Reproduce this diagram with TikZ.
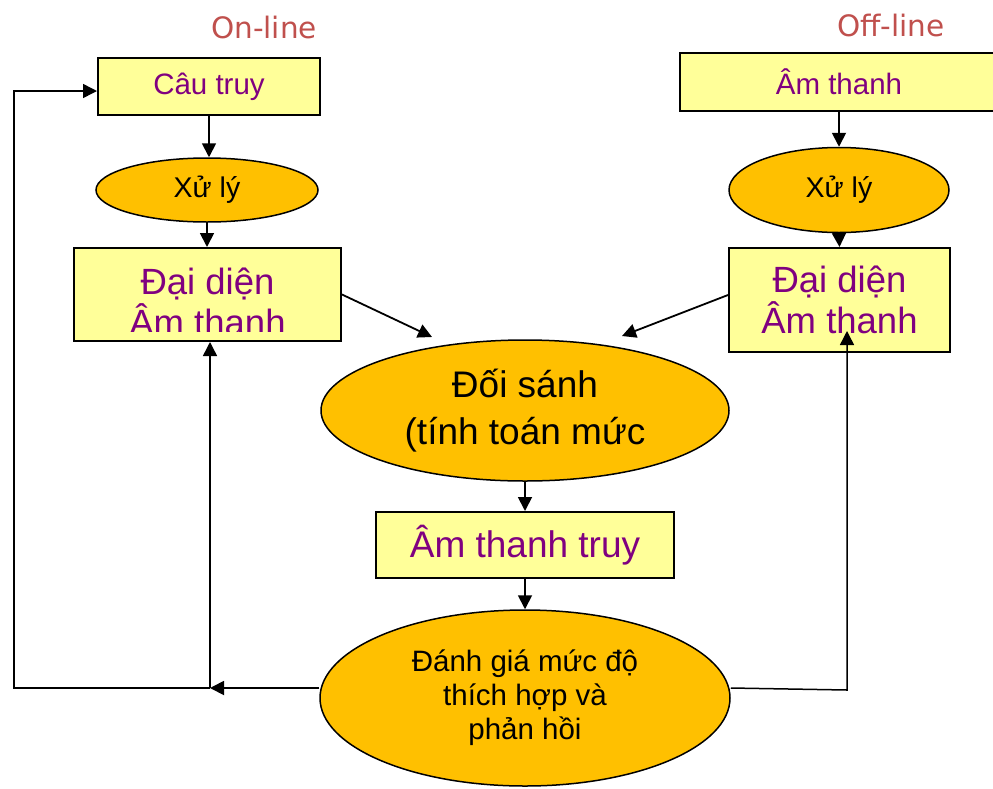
\documentclass[tikz,border=0pt]{standalone}
\usepackage{fontspec}
\setmainfont{Liberation Sans}
\newfontfamily\labelfont{DejaVu Sans}
\usetikzlibrary{shapes.geometric,arrows.meta,calc}
\definecolor{boxfill}{HTML}{FFFF99}
\definecolor{ovalfill}{HTML}{FFC000}
\definecolor{boxtext}{HTML}{800080}
\definecolor{modetext}{HTML}{C0504D}
\tikzset{
  box/.style={draw=black, line width=2pt, fill=boxfill, text=boxtext, align=center, inner sep=0pt},
  oval/.style={ellipse, draw=black, line width=1.5pt, fill=ovalfill, text=black, align=center, inner sep=0pt},
  arr/.style={line width=1.8pt, -{Triangle[length=14pt,width=14pt]}},
  link/.style={line width=1.5pt},
  mode/.style={text=modetext, font=\labelfont\fontsize{29.5}{34}\selectfont}
}
\begin{document}
\begin{tikzpicture}[x=1pt, y=-1pt]
\clip (0,0) rectangle (993,788);
\fill[white] (0,0) rectangle (993,788);

% mode labels
\node[mode] (on) at (264,27) {On-line};
\node[mode] (off) at (891,25) {Off-line};

% on-line branch
\node[box, minimum width=222, minimum height=57, font=\fontsize{29.5}{34}\selectfont] (q) at (209,86.5) {Câu truy};
\node[oval, minimum width=222, minimum height=64, font=\fontsize{28.5}{32}\selectfont] (x1) at (207,190) {Xử lý};
\node[box, minimum width=267, minimum height=93] (dl) at (207.5,294.5) {};
\begin{scope}
  \clip (75,249) rectangle (340,331);
  \node[text=boxtext, align=center, font=\fontsize{36.5}{41}\selectfont] (dlt) at (207.5,301.5) {Đại diện\\Âm thanh};
\end{scope}

% off-line branch
\node[box, minimum width=330, minimum height=58] (a) at (845,82) {};
\node[text=boxtext, font=\fontsize{29.5}{34}\selectfont] (at) at (839,82) {Âm thanh};
\node[oval, minimum width=220, minimum height=85, font=\fontsize{28.5}{32}\selectfont] (x2) at (839,190) {Xử lý};
\node[box, minimum width=221, minimum height=104, font=\fontsize{36.5}{41}\selectfont] (dr) at (839.5,300) {Đại diện\\Âm thanh};

% matching and evaluation
\node[oval, minimum width=408, minimum height=141, font=\fontsize{37}{47}\selectfont] (m) at (525,410.5) {Đối sánh\\(tính toán mức};
\node[box, minimum width=298, minimum height=66, font=\fontsize{37}{44}\selectfont] (r) at (525,545) {Âm thanh truy};
\node[oval, minimum width=410, minimum height=176, font=\fontsize{29.5}{34}\selectfont] (e) at (525,698) {Đánh giá mức độ\\thích hợp và\\phản hồi};

% free ends of connectors
\coordinate (ml) at (432,337);
\coordinate (mr) at (622,336);
\coordinate (fb) at (210,688);
\coordinate (lc) at (14,688);
\coordinate (lt) at (14,91);
\coordinate (rc) at (847,690);
\coordinate (rt) at (847,331);

% forward flow
\draw[arr] (q.south) -- (q.south |- x1.north);
\draw[arr] (x1.south) -- (x1.south |- dl.north);
\draw[arr] (a.south -| x2.north) -- (x2.north);
\draw[arr] (x2.south) -- (dr.north);
\draw[arr] (dl.east) -- (ml);
\draw[arr] ($(dr.west)+(0,-5)$) -- (mr);
\draw[arr] (m.south) -- (r.north);
\draw[arr] (r.south) -- (e.north);

% feedback loops
\draw[arr] ($(e.west)+(0,-10)$) -- (fb);
\draw[arr, link] (fb) -- (fb |- dl.south);
\draw[arr, link] (fb) -- (lc) -- (lt) -- (lt -| q.west);
\draw[arr, link] ($(e.east)+(0,-10)$) -- (rc) -- (rt);
\end{tikzpicture}
\end{document}
